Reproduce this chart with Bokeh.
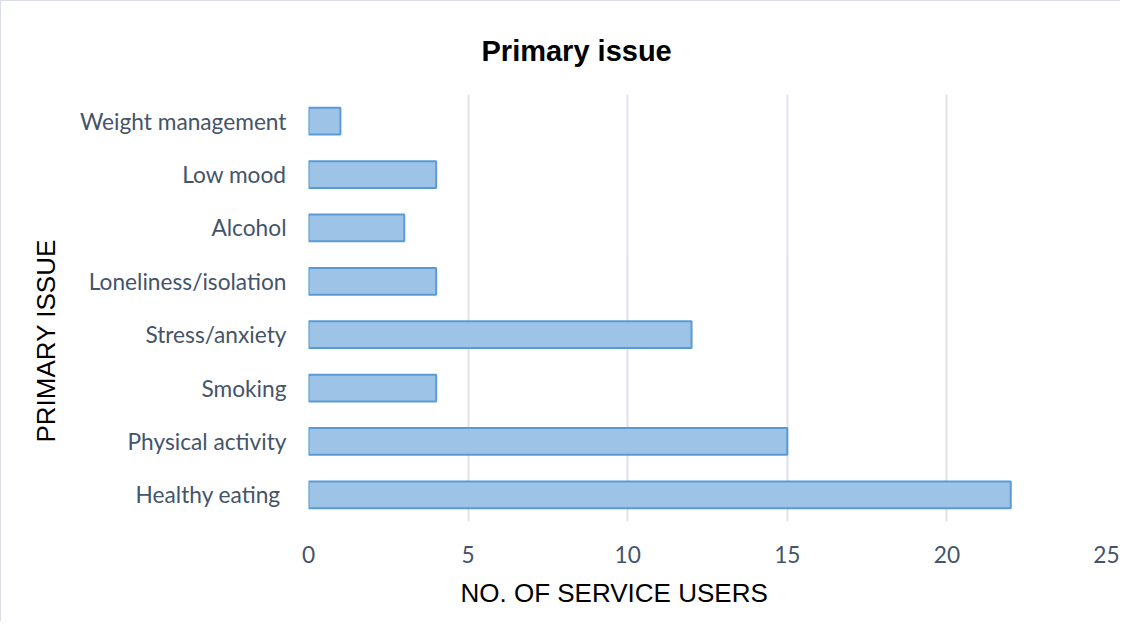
from bokeh.plotting import figure
from bokeh.models import FactorRange, Range1d, FixedTicker, ColumnDataSource, Title
from bokeh.embed import file_html
from bokeh.resources import INLINE

# Data (bottom to top)
issues = ["Healthy eating ", "Physical activity", "Smoking", "Stress/anxiety",
          "Loneliness/isolation", "Alcohol", "Low mood", "Weight management"]
users = [22, 15, 4, 12, 4, 3, 4, 1]
x_ticks = [0, 5, 10, 15, 20, 25]

src = ColumnDataSource(dict(issue=issues, users=users))

p = figure(width=1120, height=621, output_backend="svg", toolbar_location=None,
           y_range=FactorRange(factors=issues, range_padding=0),
           x_range=Range1d(0, 25),
           min_border_left=307, min_border_right=15,
           min_border_top=93, min_border_bottom=101)
p.styles = {"border-left": "1px solid #D9DDE3", "border-top": "1px solid #D9DDE3"}

p.hbar(y="issue", right="users", left=0, height=0.5, source=src,
       fill_color="#9DC3E6", line_color="#5B9BD5", line_width=2)

p.title.text = "Primary issue"
p.title.align = "left"
p.title.offset = 173
p.title.text_font = "Liberation Sans"
p.title.text_font_style = "bold"
p.title.text_font_size = "29px"
p.title.text_color = "#000000"
p.title.standoff = 56

xt = Title(text="NO. OF SERVICE USERS", align="left", offset=152,
           text_font="Liberation Sans", text_font_size="26px",
           text_font_style="normal", text_color="#000000", standoff=20)
p.add_layout(xt, "below")
yt = Title(text="PRIMARY ISSUE", align="left", offset=79,
           text_font="Liberation Sans", text_font_size="26px",
           text_font_style="normal", text_color="#000000", standoff=31)
p.add_layout(yt, "left")

p.outline_line_color = None
p.background_fill_color = "white"
p.border_fill_color = "white"

p.xgrid.ticker = FixedTicker(ticks=x_ticks)
p.xgrid.grid_line_color = "#DEE2E8"
p.xgrid.grid_line_width = 2
p.ygrid.grid_line_color = None

p.xaxis.ticker = FixedTicker(ticks=x_ticks)
for ax in (p.xaxis, p.yaxis):
    ax.axis_line_color = None
    ax.major_tick_line_color = None
    ax.minor_tick_line_color = None
    ax.major_label_text_font = "Lato"
    ax.major_label_text_font_size = "22.7px"
    ax.major_label_text_color = "#44546A"
p.xaxis.major_label_standoff = 18
p.yaxis.major_label_standoff = 16

open("out.html", "w").write(file_html(p, INLINE))
